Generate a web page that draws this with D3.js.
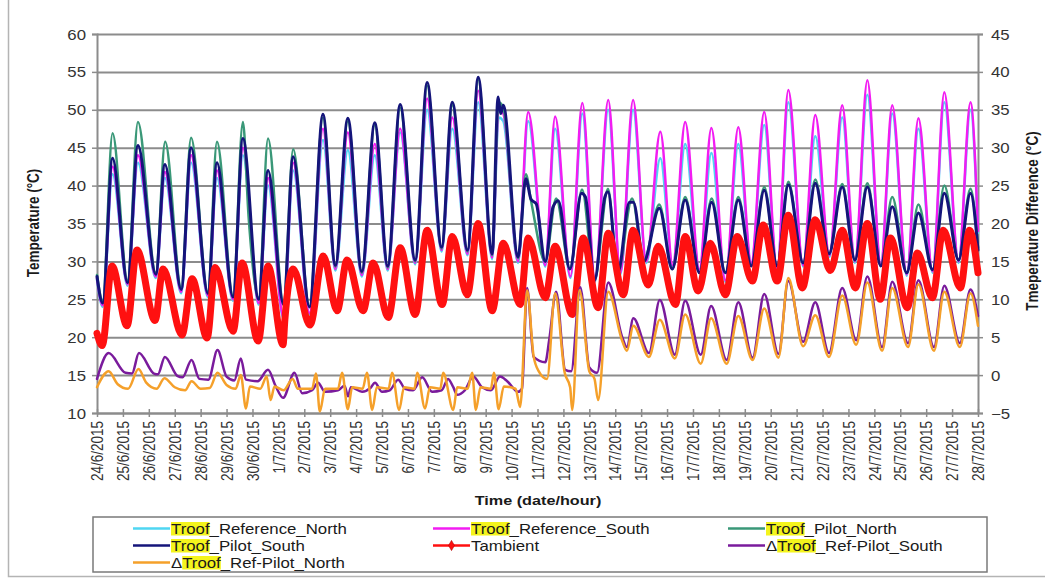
<!DOCTYPE html>
<html>
<head>
<meta charset="utf-8">
<script src="https://cdn.jsdelivr.net/npm/d3@7"></script>
<style>
  body { margin: 0; background: #fff; }
  text { font-family: "Liberation Sans", Arial, sans-serif; fill: #262626; }
</style>
</head>
<body>
<svg id="chart" width="1045" height="578"></svg>
<script>
// ---- Data -------------------------------------------------------------
// Time is given in days after 24/6/2015 00:00; values in °C.
const startDate = new Date(2015, 5, 24);
const endDate = new Date(2015, 6, 28);

const tempTicks = [10, 15, 20, 25, 30, 35, 40, 45, 50, 55, 60];
const diffTicks = [-5, 0, 5, 10, 15, 20, 25, 30, 35, 40, 45];

const refNorth = [
  [0,27.6],[0.22,24],[0.6,41.5],[1.18,26.8],[1.58,43],[2.27,27.8],[2.62,41],[3.25,25.8],[3.63,43],
  [4.28,25.3],[4.63,41],[5.25,24.8],[5.63,44],[6.24,24.3],[6.6,40],[7.2,22.4],[7.57,42],[8.2,23],
  [8.72,46],[9.2,28.8],[9.68,44.7],[10.22,28],[10.72,44],[11.22,28.8],[11.7,47],[12.28,29.6],
  [12.74,50],[13.3,31.3],[13.71,47.5],[14.3,30.8],[14.71,51],[15.25,30.3],[15.5,49],[15.68,48.5],
  [16.25,29.8],[16.64,48.5],[17.3,29.3],[17.68,47.5],[18.27,27.8],[18.73,49.5],[19.22,27.3],
  [19.73,50],[20.2,28.3],[20.69,50],[21.2,29.8],[21.74,43.6],[22.22,29.3],[22.7,45.5],[23.25,28.7],
  [23.71,44.3],[24.25,27.3],[24.75,45.5],[25.25,29.6],[25.75,48],[26.25,28.7],[26.68,51],
  [27.25,29.3],[27.72,46.5],[28.27,30.6],[28.76,49],[29.25,29.8],[29.73,52],[30.25,29.4],
  [30.69,49.5],[31.25,28.1],[31.7,47.5],[32.25,28.5],[32.7,51],[33.25,29.8],[33.71,50],[34,33.8]
];

const refSouth = [
  [0,27.8],[0.22,24.2],[0.6,42.5],[1.18,27],[1.58,44],[2.27,28],[2.62,41.8],[3.25,26],[3.63,44],
  [4.28,25.5],[4.63,42],[5.25,25],[5.63,45],[6.24,24.5],[6.6,41],[7.2,22.6],[7.57,43],[8.2,23.2],
  [8.72,47.5],[9.2,29],[9.68,47],[10.22,28.2],[10.72,45.5],[11.22,29],[11.7,47.5],[12.28,29.8],
  [12.74,51.5],[13.3,31.5],[13.71,49],[14.3,31],[14.71,52.5],[15.25,30.5],[15.5,50],[15.68,49.5],
  [16.25,30],[16.64,49.7],[17.3,29.5],[17.68,49.1],[18.27,28],[18.73,50.9],[19.22,27.5],
  [19.73,51.3],[20.2,28.5],[20.69,51.3],[21.2,30],[21.74,47.1],[22.22,29.5],[22.7,48.4],
  [23.25,28.9],[23.71,47.6],[24.25,27.5],[24.75,47.7],[25.25,29.8],[25.75,49.7],[26.25,28.9],
  [26.68,52.6],[27.25,29.5],[27.72,49.3],[28.27,30.8],[28.76,50.6],[29.25,30],[29.73,53.9],
  [30.25,29.6],[30.69,50.6],[31.25,28.3],[31.7,48.9],[32.25,28.7],[32.7,52.3],[33.25,30],
  [33.71,51],[34,34]
];

const pilotNorth = [
  [0,28.2],[0.22,24.8],[0.6,46.9],[1.18,27.5],[1.58,48.4],[2.27,28.5],[2.63,45.8],[3.25,26.6],
  [3.63,46.3],[4.28,26],[4.63,45.8],[5.25,25.5],[5.63,48.4],[5.85,35.9],[6.24,25.2],[6.6,46.2],
  [7.2,24.5],[7.57,44.8],[8.2,24],[8.72,49],[9.2,29.3],[9.68,48.5],[10.22,28.5],[10.72,48],
  [11.22,29.2],[11.7,50.3],[12.28,30],[12.74,53.2],[13.3,31.7],[13.71,50.6],[14.3,31.3],
  [14.71,54],[15.25,30.8],[15.5,51],[15.68,50.3],[16.25,30.4],[16.55,41.5],[16.75,38],
  [17.3,30],[17.72,38.3],[18.25,29],[18.72,39.5],[19.2,27.5],[19.72,39.6],[20.1,28.5],
  [20.65,38.3],[21.1,30],[21.7,37.5],[22.2,29],[22.7,38.5],[23.25,28.5],[23.72,38.3],
  [24.25,28.5],[24.75,38.5],[25.25,29.4],[25.75,39.8],[26.25,29.4],[26.68,40.5],[27.25,29.8],
  [27.72,40.8],[28.25,31],[28.76,40.2],[29.25,30.2],[29.73,40.3],[30.25,29.4],[30.69,38.5],
  [31.25,28.5],[31.7,37.5],[32.25,28.9],[32.7,40],[33.25,30.2],[33.71,39.6],[34,31.8]
];

const pilotSouth = [
  [0,28],[0.22,24.5],[0.6,43.6],[1.18,27.2],[1.58,45.3],[2.27,28.3],[2.62,42.8],[3.25,26.3],
  [3.63,45],[4.28,25.8],[4.63,43],[5.25,25.3],[5.63,46.2],[6.24,25],[6.6,42],[7.2,24.3],
  [7.57,43.8],[8.2,24],[8.72,49.4],[9.2,29.5],[9.68,48.9],[10.22,28.7],[10.72,48.3],[11.22,29.4],
  [11.7,50.7],[12.28,30.2],[12.74,53.6],[13.3,31.9],[13.71,51],[14.3,31.5],[14.71,54.3],
  [15.25,31],[15.48,51.7],[15.58,49.5],[15.68,50.6],[16.25,30.6],[16.55,40.9],[16.75,38.2],
  [16.95,37.6],[17.3,30],[17.6,37.2],[17.8,38],[18.25,29],[18.7,39],[18.85,38.5],[19.2,27.5],
  [19.6,38.5],[19.72,39.2],[20.1,28.5],[20.55,37.8],[20.7,37.8],[21.1,30],[21.7,37],[22.2,29],
  [22.7,38.1],[23.25,28.5],[23.72,37.8],[24.25,28.5],[24.75,38.1],[25.25,29.4],[25.75,39.4],
  [26.25,29.4],[26.68,40.1],[27.25,29.8],[27.72,40.3],[28.25,31],[28.76,39.8],[29.25,30.2],
  [29.73,39.8],[30.25,29.4],[30.69,37.2],[31.25,28.5],[31.7,36.4],[32.25,28.9],[32.7,39],
  [33.25,30.2],[33.71,39],[34,31.5]
];

const tAmbient = [
  [0,20.5],[0.2,18.9],[0.58,29.4],[1.16,21.5],[1.54,31.5],[2.24,22.2],[2.55,29],[3.28,20.3],
  [3.67,27.7],[4.25,19.9],[4.56,29.2],[5.25,20.8],[5.6,29.8],[6.22,19.5],[6.6,29.4],[7.18,19],
  [7.25,22.3],[7.57,29],[8.22,21.6],[8.73,30.7],[9.27,23.5],[9.65,30.2],[10.27,23.5],[10.66,29.8],
  [11.24,22.6],[11.7,31.8],[12.28,23],[12.74,34.1],[13.32,24.3],[13.71,33.3],[14.29,25.6],
  [14.71,35],[15.25,23.5],[15.68,32.4],[16.33,24.3],[16.64,33.1],[17.3,25.2],[17.68,32],
  [18.34,23],[18.76,33.1],[19.34,23.9],[19.73,33.7],[20.31,25.6],[20.69,34.1],[21.27,26.9],
  [21.66,32],[22.32,24.3],[22.7,33.3],[23.2,26.1],[23.67,32.4],[24.25,25.6],[24.71,33.3],
  [25.29,27.4],[25.71,34.8],[26.25,27.4],[26.68,36.1],[27.22,26.5],[27.72,35.5],[28.3,28.8],
  [28.76,34.1],[29.27,26.5],[29.73,35],[30.23,25],[30.62,33.1],[31.27,23.9],[31.66,31.1],
  [32.24,25.2],[32.66,34.1],[33.32,26.5],[33.67,34.1],[34,28.5]
];

// Differences, read on the right-hand axis
const diffSouth = [
  [0,-0.5],[0.45,2.9],[1.1,0.3],[1.35,0.2],[1.62,2.9],[2.2,0.2],[2.35,0.1],[2.62,2.4],[3.1,-0.1],
  [3.3,-0.3],[3.65,2.0],[3.95,-0.5],[4.3,-0.6],[4.65,3.3],[5.0,-0.2],[5.3,-0.7],[5.55,2.2],
  [5.75,-0.6],[6.2,-0.8],[6.6,0.7],[6.9,-1.5],[7.18,-3.0],[7.62,0.3],[7.92,-2.4],[8.3,-2.0],
  [8.53,-1.0],[8.8,-2.2],[9.3,-2.0],[9.55,-1.4],[9.69,-2.8],[9.8,-1.6],[10.23,-2.2],[10.55,-1.7],
  [10.73,-1.0],[11.0,-2.2],[11.3,-2.0],[11.62,-0.6],[11.89,-1.8],[12.2,-2.0],[12.55,-0.3],
  [12.93,-2.2],[13.3,-2.0],[13.55,-0.5],[13.75,-1.6],[13.9,-2.6],[14.2,-2.0],[14.52,-0.2],
  [14.86,-1.6],[15.2,-2.0],[15.55,-0.2],[15.83,-0.8],[16.25,-2.2],[16.4,-1.8],[16.6,11.5],
  [16.85,2.4],[17.3,1.7],[17.45,4.6],[17.72,11.0],[18.07,0.7],[18.3,0.5],[18.65,11.6],[19.0,1.0],
  [19.3,0.3],[19.73,12.2],[20.27,5.0],[20.45,3.7],[20.7,7.5],[21.3,2.9],[21.72,9.9],[22.3,2.7],
  [22.7,9.8],[23.3,2.7],[23.7,9.1],[24.3,2.0],[24.75,9.6],[25.3,2.3],[25.75,10.7],[26.3,2.8],
  [26.68,12.4],[27.25,4.4],[27.72,9.6],[28.25,2.9],[28.76,11.5],[29.3,4.6],[29.73,13.0],
  [30.3,3.7],[30.69,12.3],[31.3,4.2],[31.7,12.5],[32.3,3.7],[32.7,11.8],[33.3,4.2],[33.71,11.3],
  [34,7.8]
];

const diffNorth = [
  [0,-1.6],[0.45,0.5],[0.8,-1.2],[1.2,-1.8],[1.6,0.8],[1.9,-1.0],[2.3,-1.8],[2.6,-0.4],[3.0,-1.6],
  [3.4,-2.0],[3.65,-0.8],[4.0,-1.8],[4.35,-1.7],[4.65,0.3],[5.0,-1.3],[5.35,-1.8],[5.55,0.0],
  [5.75,-4.4],[5.9,-1.5],[6.3,-1.8],[6.55,-0.2],[6.7,-3.3],[6.85,-1.5],[7.2,-2.0],[7.55,-0.5],
  [7.75,-1.8],[8.3,-1.8],[8.45,0.2],[8.6,-4.8],[8.8,-1.8],[9.3,-1.8],[9.46,0.3],[9.68,-4.5],
  [9.85,-1.6],[10.25,-1.8],[10.42,0.3],[10.62,-4.6],[10.8,-1.6],[11.25,-1.8],[11.39,0.3],
  [11.66,-4.6],[11.85,-1.6],[12.25,-1.8],[12.36,0.3],[12.66,-4.4],[12.85,-1.6],[13.25,-1.8],
  [13.36,0.3],[13.75,-4.6],[13.9,-1.6],[14.3,-1.8],[14.48,0.3],[14.62,-4.6],[14.8,-1.6],
  [15.2,-1.8],[15.32,0.3],[15.5,-4.5],[15.7,-1.5],[16.15,-1.8],[16.33,-4.2],[16.6,11.2],
  [16.85,2.5],[17.05,0.5],[17.37,-0.5],[17.68,10.8],[18.05,0.3],[18.26,-1.6],[18.34,-4.6],
  [18.62,11.2],[19.0,0.5],[19.2,-0.5],[19.34,-3.3],[19.73,11.0],[20.27,4.5],[20.45,3.2],
  [20.7,6.5],[21.3,2.4],[21.72,7.3],[22.3,2.2],[22.7,8.0],[23.3,1.5],[23.7,7.5],[24.3,1.5],
  [24.75,7.8],[25.3,2.0],[25.75,8.8],[26.3,2.3],[26.68,12.8],[27.25,3.8],[27.72,7.9],[28.25,2.4],
  [28.76,10.5],[29.3,4.0],[29.73,12.2],[30.3,3.2],[30.69,11.5],[31.3,3.7],[31.7,12.0],[32.3,3.2],
  [32.7,11.0],[33.3,3.7],[33.71,10.8],[34,6.5]
];

const seriesNames = [
  "Troof_Reference_North", "Troof_Reference_South", "Troof_Pilot_North",
  "Troof_Pilot_South", "Tambient", "\u0394Troof_Ref-Pilot_South", "\u0394Troof_Ref-Pilot_North"
];

// ---- Layout -----------------------------------------------------------
const plot = { left: 97, right: 978, top: 34, bottom: 413 };
const stretch = "scale(1.2,1)";

const svg = d3.select("#chart");

// outer chart frame
svg.append("rect")
  .attr("x", 8.5).attr("y", -2).attr("width", 1045).attr("height", 578.5)
  .attr("fill", "none").attr("stroke", "#b4b4b4").attr("stroke-width", 1.5);

const x = d3.scaleTime().domain([startDate, endDate]).range([plot.left, plot.right]);
const yL = d3.scaleLinear().domain([10, 60]).range([plot.bottom, plot.top]);
const yR = d3.scaleLinear().domain([-5, 45]).range([plot.bottom, plot.top]);
const toDate = t => new Date(startDate.getTime() + t * 864e5);

const gridColor = "#8c8c8c";

// horizontal gridlines
svg.append("g")
  .attr("transform", `translate(${plot.left},0)`)
  .call(d3.axisLeft(yL).tickValues(tempTicks).tickSize(-(plot.right - plot.left)).tickFormat(""))
  .call(g => g.select(".domain").remove())
  .call(g => g.selectAll("line").attr("stroke", gridColor).attr("stroke-width", 2));

// left axis
const leftAxis = svg.append("g")
  .attr("transform", `translate(${plot.left},0)`)
  .call(d3.axisLeft(yL).tickValues(tempTicks).tickSize(5).tickPadding(0));
leftAxis.select(".domain").attr("stroke", gridColor).attr("stroke-width", 2);
leftAxis.selectAll(".tick line").attr("stroke", gridColor).attr("stroke-width", 1.5);
leftAxis.selectAll(".tick text")
  .attr("x", null).attr("dy", null)
  .attr("text-anchor", "end")
  .attr("transform", `translate(-11,5) ${stretch}`)
  .style("font-size", "14px").style("fill", "#333");

// right axis
const rightAxis = svg.append("g")
  .attr("transform", `translate(${plot.right},0)`)
  .call(d3.axisRight(yR).tickValues(diffTicks).tickSize(5).tickPadding(0));
rightAxis.select(".domain").attr("stroke", gridColor).attr("stroke-width", 2);
rightAxis.selectAll(".tick line").attr("stroke", gridColor).attr("stroke-width", 1.5);
rightAxis.selectAll(".tick text")
  .attr("x", null).attr("dy", null)
  .attr("text-anchor", "start")
  .attr("transform", `translate(13,5) ${stretch}`)
  .style("font-size", "14px").style("fill", "#333");

// bottom (time) axis with one tick per day
const bottomAxis = svg.append("g")
  .attr("transform", `translate(0,${plot.bottom})`)
  .call(d3.axisBottom(x).ticks(d3.timeDay.every(1)).tickFormat(d3.timeFormat("%-d/%-m/%Y")).tickSize(0));
bottomAxis.select(".domain").attr("stroke", gridColor).attr("stroke-width", 2);
bottomAxis.selectAll(".tick line")
  .attr("y1", -4).attr("y2", 4).attr("stroke", gridColor).attr("stroke-width", 1.5);
bottomAxis.selectAll(".tick text")
  .attr("y", null).attr("dy", "0.35em")
  .attr("text-anchor", "end")
  .attr("transform", `translate(0,8) ${stretch} rotate(-90)`)
  .style("font-size", "13.5px").style("fill", "#333");

// ---- Series -----------------------------------------------------------
const lineL = d3.line().x(d => x(toDate(d[0]))).y(d => yL(d[1])).curve(d3.curveMonotoneX);
const lineR = d3.line().x(d => x(toDate(d[0]))).y(d => yR(d[1])).curve(d3.curveMonotoneX);

const series = [
  { data: refNorth,   line: lineL, color: "#4fd6f2", width: 2.5 },
  { data: refSouth,   line: lineL, color: "#f21cf2", width: 2.5 },
  { data: pilotNorth, line: lineL, color: "#3a9878", width: 2.5 },
  { data: pilotSouth, line: lineL, color: "#14147a", width: 3 },
  { data: tAmbient,   line: lineL, color: "#ff1010", width: 7 },
  { data: diffSouth,  line: lineR, color: "#7a1b9c", width: 2.5 },
  { data: diffNorth,  line: lineR, color: "#f5a02a", width: 2.5 }
];

const plotArea = svg.append("g");
series.forEach(s => {
  plotArea.append("path")
    .attr("d", s.line(s.data))
    .attr("fill", "none")
    .attr("stroke", s.color)
    .attr("stroke-width", s.width)
    .attr("stroke-linejoin", "round")
    .attr("stroke-linecap", "round");
});

// ---- Titles -----------------------------------------------------------
svg.append("text")
  .attr("transform", `translate(33,223) ${stretch} rotate(-90)`)
  .attr("text-anchor", "middle").attr("dy", "0.35em")
  .style("font-size", "13.5px").style("font-weight", "bold").style("fill", "#1a1a1a")
  .text("Temperature (\u00B0C)");

svg.append("text")
  .attr("transform", `translate(1032,221) ${stretch} rotate(-90)`)
  .attr("text-anchor", "middle").attr("dy", "0.35em")
  .style("font-size", "13.5px").style("font-weight", "bold").style("fill", "#1a1a1a")
  .text("Tmeperature Difference (\u00B0C)");

svg.append("text")
  .attr("transform", `translate(538,505) ${stretch}`)
  .attr("text-anchor", "middle")
  .style("font-size", "13.5px").style("font-weight", "bold").style("fill", "#1a1a1a")
  .text("Time (date/hour)");

// ---- Legend -----------------------------------------------------------
svg.append("rect")
  .attr("x", 93).attr("y", 517).attr("width", 894).attr("height", 55)
  .attr("fill", "#fff").attr("stroke", "#7a7a7a").attr("stroke-width", 1.5);

const colX = [133, 433, 728];
const rowY = [528.5, 545.5, 562.5];

seriesNames.forEach((name, i) => {
  const cx = colX[i % 3], cy = rowY[Math.floor(i / 3)];
  const s = series[i];
  const g = svg.append("g");
  g.append("line")
    .attr("x1", cx).attr("x2", cx + 37).attr("y1", cy).attr("y2", cy)
    .attr("stroke", s.color).attr("stroke-width", i === 4 ? 2.5 : 2.5);
  if (i === 4) {
    g.append("path")
      .attr("d", d3.symbol(d3.symbolDiamond, 30)())
      .attr("transform", `translate(${cx + 18.5},${cy})`)
      .attr("fill", s.color).attr("stroke", "#b00000").attr("stroke-width", 0.6);
  }
  const tg = g.append("g").attr("transform", `translate(${cx + 38},${cy + 5}) ${stretch}`);
  const hl = tg.append("rect").attr("fill", "#f4f41c");
  const t = tg.append("text").style("font-size", "14px").style("fill", "#1a1a1a");
  t.append("tspan").text(name);
  const k = name.indexOf("Troof");
  if (k >= 0) {
    const node = t.node();
    const off = k > 0 ? node.getSubStringLength(0, k) : 0;
    const w = node.getSubStringLength(k, 5);
    hl.attr("x", off).attr("y", -11.5).attr("width", w).attr("height", 13.5);
  } else {
    hl.remove();
  }
});
</script>
</body>
</html>
